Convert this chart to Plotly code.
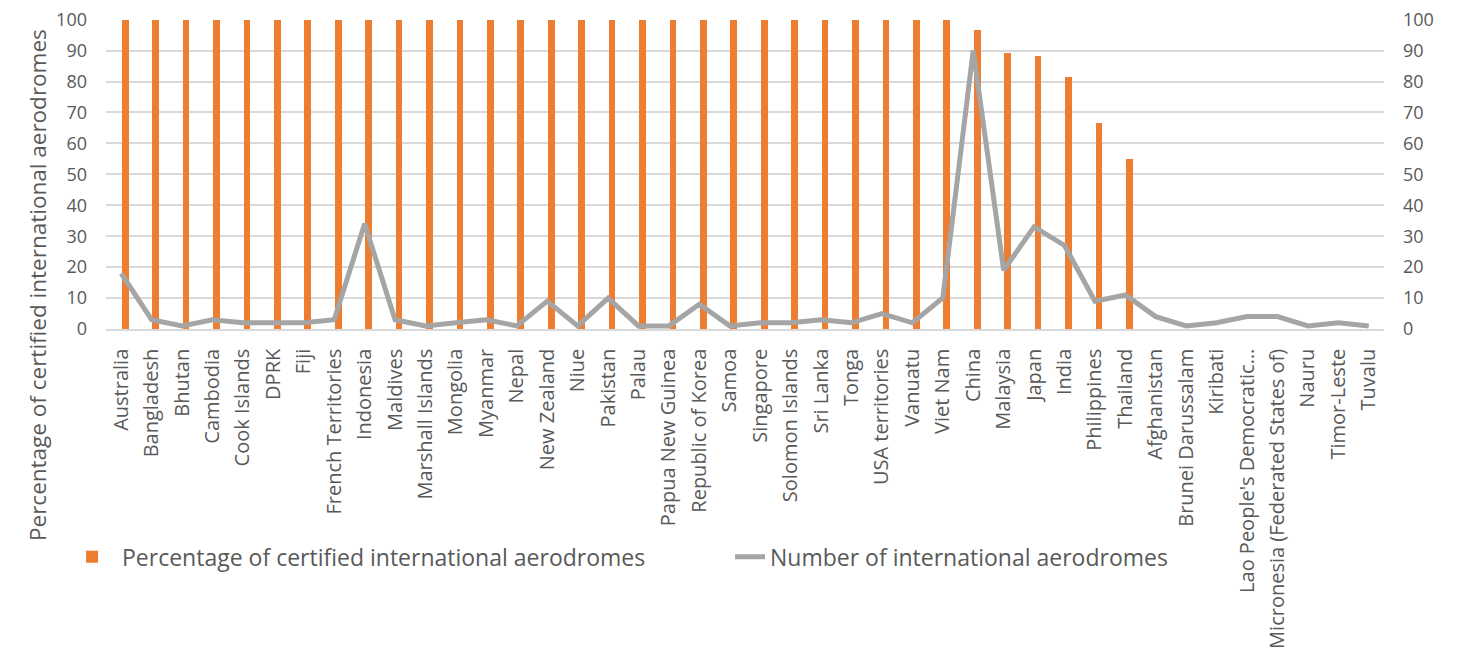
import plotly.graph_objects as go

countries = ["Australia", "Bangladesh", "Bhutan", "Cambodia", "Cook Islands", "DPRK", "Fiji",
             "French Territories", "Indonesia", "Maldives", "Marshall Islands", "Mongolia",
             "Myanmar", "Nepal", "New Zealand", "Niue", "Pakistan", "Palau", "Papua New Guinea",
             "Republic of Korea", "Samoa", "Singapore", "Solomon Islands", "Sri Lanka", "Tonga",
             "USA territories", "Vanuatu", "Viet Nam", "China", "Malaysia", "Japan", "India",
             "Philippines", "Thailand", "Afghanistan", "Brunei Darussalam", "Kiribati",
             "Lao People's Democratic…", "Micronesia (Federated States of)", "Nauru",
             "Timor-Leste", "Tuvalu"]

pct_certified = [100, 100, 100, 100, 100, 100, 100, 100, 100, 100, 100, 100, 100, 100,
                 100, 100, 100, 100, 100, 100, 100, 100, 100, 100, 100, 100, 100, 100,
                 96.6, 89.3, 88.2, 81.5, 66.7, 55.0, 0, 0, 0, 0, 0, 0, 0, 0]

num_aerodromes = [18, 3, 1, 3, 2, 2, 2, 3, 34, 3, 1, 2, 3, 1, 9, 1, 10, 1, 1, 8, 1, 2, 2, 3,
                  2, 5, 2, 10, 90, 19, 33, 27, 9, 11, 4, 1, 2, 4, 4, 1, 2, 1]

yticks = list(range(0, 101, 10))

ORANGE = "#ED7D31"
GREY = "#A5A5A5"
TXT = "#595959"
GRID = "#D9D9D9"

fig = go.Figure()
fig.add_trace(go.Bar(
    x=list(range(len(countries))), y=pct_certified,
    name="Percentage of certified international aerodromes",
    marker=dict(color=ORANGE, line=dict(width=0)),
    width=0.22, offset=0.02, legend="legend",
))
fig.add_trace(go.Scatter(
    x=list(range(len(countries))), y=num_aerodromes, yaxis="y2",
    mode="lines", name="Number of international aerodromes",
    line=dict(color=GREY, width=5), legend="legend2",
))

xtickfont = dict(family="Open Sans", size=20, color=TXT)
ytickfont = dict(family="Open Sans", size=18, color=TXT)
legfont = dict(family="Open Sans", size=23, color=TXT)

fig.update_layout(
    width=1457, height=644,
    margin=dict(l=98, r=81, t=11, b=323, autoexpand=False),
    paper_bgcolor="white", plot_bgcolor="white",
    showlegend=True,
    bargap=0,
    xaxis=dict(
        range=[-0.5, len(countries) - 0.5],
        tickmode="array", tickvals=list(range(len(countries))), ticktext=countries,
        tickangle=-90, tickfont=xtickfont, showgrid=False, ticks="",
        showline=True, linecolor=GRID, linewidth=1.5,
        ticklabelstandoff=10, automargin=False, ticklabeloverflow="allow",
    ),
    yaxis=dict(
        range=[0, 100.2], tickmode="array", tickvals=yticks,
        tickfont=ytickfont, showgrid=True, gridcolor=GRID, gridwidth=1.5,
        zeroline=False, ticks="", ticklabelstandoff=18, automargin=False,
        ticklabeloverflow="allow",
    ),
    yaxis2=dict(
        range=[0, 100.2], tickmode="array", tickvals=yticks,
        overlaying="y", side="right",
        tickfont=ytickfont, showgrid=False, zeroline=False, ticks="",
        ticklabelstandoff=18, automargin=False, ticklabeloverflow="allow",
    ),
    legend=dict(
        orientation="h", x=-0.0344, y=-0.735, xanchor="left", yanchor="middle",
        font=legfont, itemwidth=50, bgcolor="rgba(0,0,0,0)",
    ),
    legend2=dict(
        orientation="h", x=0.4883, y=-0.735, xanchor="left", yanchor="middle",
        font=legfont, itemwidth=30, bgcolor="rgba(0,0,0,0)",
    ),
    annotations=[dict(
        text="Percentage of certified international aerodromes",
        xref="paper", yref="paper", x=-0.0532, y=0.142,
        xanchor="center", yanchor="middle", textangle=-90, showarrow=False,
        font=dict(family="Open Sans", size=22.5, color=TXT),
    )],
)

fig.write_html("out.html")
